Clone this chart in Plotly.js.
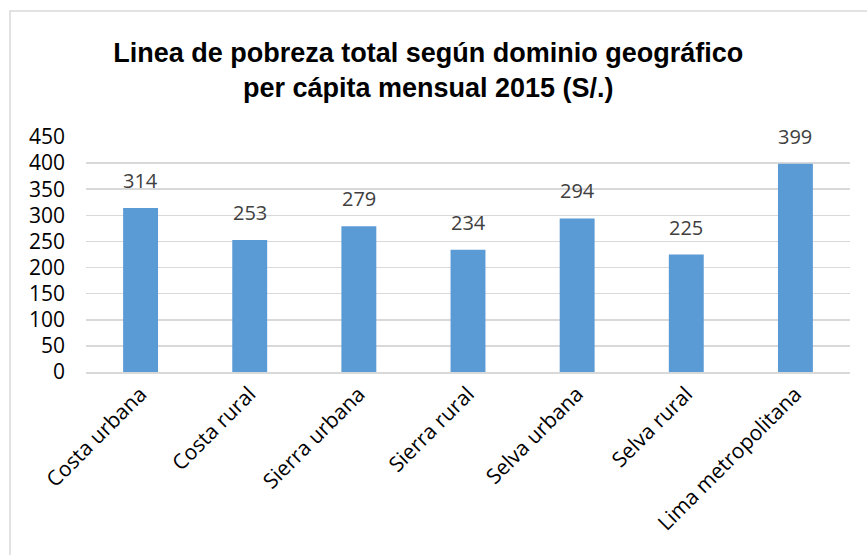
<!DOCTYPE html>
<html>
<head>
<meta charset="utf-8">
<script src="https://cdn.plot.ly/plotly-3.0.1.min.js"></script>
<style>
html,body{margin:0;padding:0;background:#fff;}
#chart{width:867px;height:555px;}
</style>
</head>
<body>
<div id="chart"></div>
<script>
const categories = ["Costa urbana","Costa rural","Sierra urbana","Sierra rural","Selva urbana","Selva rural","Lima metropolitana"];
const values = [314, 253, 279, 234, 294, 225, 399];
const yTicks = [0,50,100,150,200,250,300,350,400,450];

const trace = {
  type: 'bar',
  x: categories,
  y: values,
  marker: {color: '#5B9BD5'},
  width: 0.32,
  hoverinfo: 'none'
};

const annotations = categories.map((c, i) => ({
  x: c, y: values[i], xref: 'x', yref: 'y',
  text: String(values[i]), showarrow: false,
  yanchor: 'bottom', yshift: 12,
  font: {family: 'Open Sans, sans-serif', size: 20, color: '#404040'}
}));

const layout = {
  width: 867, height: 555,
  margin: {l: 86, r: 17, t: 137, b: 183},
  paper_bgcolor: '#fff', plot_bgcolor: '#fff',
  showlegend: false,
  title: {
    text: '<b>Linea de pobreza total según dominio geográfico<br>per cápita mensual 2015 (S/.)</b>',
    font: {family: 'Liberation Sans, Arial, sans-serif', size: 27, color: '#000'},
    xref: 'container', x: 0.494, xanchor: 'center',
    yref: 'container', y: 1 - 62/555, yanchor: 'top'
  },
  xaxis: {
    type: 'category',
    tickangle: -45,
    tickfont: {family: 'Open Sans, sans-serif', size: 21, color: '#000'},
    showline: true, linecolor: '#d9d9d9', linewidth: 1.5,
    ticks: '', showgrid: false, fixedrange: true
  },
  yaxis: {
    range: [0, 450],
    tickvals: yTicks,
    ticktext: yTicks.map(String),
    tickfont: {family: 'Open Sans, sans-serif', size: 21, color: '#000'},
    ticklabelstandoff: 20,
    showgrid: true, gridcolor: '#d9d9d9', gridwidth: 1.5,
    zeroline: false, showline: false, ticks: '', ticklen: 0,
    fixedrange: true
  },
  annotations: annotations,
  shapes: [{
    type: 'rect', xref: 'paper', yref: 'paper',
    x0: (10 - 86) / 764, x1: (900 - 86) / 764,
    y0: (372 - 600) / 235, y1: (372 - 11) / 235,
    line: {color: '#d9d9d9', width: 1.5}, fillcolor: 'rgba(0,0,0,0)', layer: 'below'
  }]
};

Plotly.newPlot('chart', [trace], layout, {displayModeBar: false, staticPlot: true});
</script>
</body>
</html>
